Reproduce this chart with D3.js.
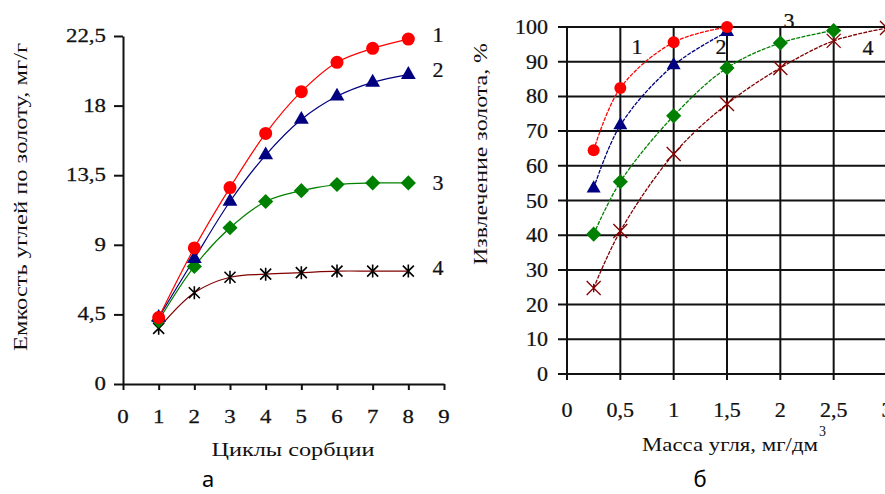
<!DOCTYPE html>
<html><head><meta charset="utf-8">
<script src="https://cdn.jsdelivr.net/npm/d3@7"></script>
<style>html,body{margin:0;padding:0;background:#fff;overflow:hidden}</style>
</head><body>
<svg id="c" width="885" height="494"></svg>
<script>
// ---- Left chart (а) data ----
const cyclesX = [1, 2, 3, 4, 5, 6, 7, 8];
const capS1 = [4.3, 8.8, 12.7, 16.2, 18.9, 20.8, 21.7, 22.3];
const capS2 = [4.3, 8.1, 11.8, 14.8, 17.1, 18.6, 19.5, 20.0];
const capS3 = [4.1, 7.6, 10.1, 11.8, 12.5, 12.9, 13.0, 13.0];
const capS4 = [3.6, 5.9, 6.9, 7.1, 7.2, 7.3, 7.3, 7.3];
const leftYTicks = [0, 4.5, 9, 13.5, 18, 22.5];
const leftXTicks = [0, 1, 2, 3, 4, 5, 6, 7, 8, 9];

// ---- Right chart (б) data ----
const massX1 = [0.25, 0.5, 1, 1.5];
const recS1 = [64.5, 82.4, 95.6, 100];
const recS2 = [53.5, 71.7, 89.0, 98.6];
const massX3 = [0.25, 0.5, 1, 1.5, 2, 2.5];
const recS3 = [40.3, 55.4, 74.4, 88.2, 95.4, 99.0];
const massX4 = [0.25, 0.5, 1, 1.5, 2, 2.5, 3];
const recS4 = [24.8, 41.2, 63.4, 77.8, 88.2, 96.0, 99.7];
const rightYTicks = [0, 10, 20, 30, 40, 50, 60, 70, 80, 90, 100];
const rightXTicks = [0, 0.5, 1, 1.5, 2, 2.5, 3];

const svg = d3.select("#c");
const serif = "'Liberation Serif','DejaVu Serif',serif";
const fmt = d => String(d).replace(".", ",");

function txt(g, x, y, s, size, sx, anchor, fill) {
  return g.append("text")
    .attr("transform", `translate(${x},${y}) scale(${sx},1)`)
    .attr("text-anchor", anchor || "middle")
    .attr("font-family", serif).attr("font-size", size)
    .attr("fill", fill || "#111").attr("stroke", fill || "#111").attr("stroke-width", 0.25)
    .text(s);
}

function marker(g, type, x, y, color, sz) {
  if (type === "circle") {
    g.append("circle").attr("cx", x).attr("cy", y).attr("r", sz).attr("fill", color);
  } else if (type === "tri") {
    g.append("path").attr("d", d3.symbol(d3.symbolTriangle, sz)())
      .attr("transform", `translate(${x},${y})`).attr("fill", color);
  } else if (type === "diamond") {
    g.append("path").attr("d", d3.symbol(d3.symbolSquare, sz)())
      .attr("transform", `translate(${x},${y}) rotate(45)`).attr("fill", color);
  } else if (type === "star") {
    const s = sz;
    g.append("path").attr("d", `M${-s},${-s}L${s},${s}M${-s},${s}L${s},${-s}M0,${-s - 1}L0,${s + 1}`)
      .attr("transform", `translate(${x},${y})`).attr("stroke", color).attr("stroke-width", 1.6).attr("fill", "none");
  } else if (type === "xm") {
    const s = sz;
    g.append("path").attr("d", `M${-s},${-s}L${s},${s}M${-s},${s}L${s},${-s}M0,${-s * 0.6}L0,${s * 0.6}`)
      .attr("transform", `translate(${x},${y})`).attr("stroke", color).attr("stroke-width", 1.3).attr("fill", "none");
  }
}

// ================= LEFT CHART =================
const xL = d3.scaleLinear().domain([0, 9]).range([123, 444]);
const yL = d3.scaleLinear().domain([0, 22.5]).range([384, 36]);
const gL = svg.append("g");

const axY = gL.append("g").attr("transform", `translate(${xL(0)},0)`)
  .call(d3.axisLeft(yL).tickValues(leftYTicks).tickSize(9).tickSizeOuter(0).tickFormat(fmt));
const axX = gL.append("g").attr("transform", `translate(0,${yL(0)})`)
  .call(d3.axisBottom(xL).tickValues(leftXTicks).tickSize(6).tickSizeOuter(0).tickFormat(fmt));
[axY, axX].forEach(a => {
  a.selectAll("path,line").attr("stroke", "#111").attr("stroke-width", 2);
  a.selectAll("text").remove();
});
leftYTicks.forEach(v => txt(gL, xL(0) - 17, yL(v) + 6, fmt(v), 18, 1.27, "end"));
leftXTicks.forEach(v => txt(gL, xL(v), 423, fmt(v), 18, 1.27, "middle"));

const lineL = d3.line().x(d => xL(d[0])).y(d => yL(d[1])).curve(d3.curveCatmullRom.alpha(0.5));
const leftSeries = [
  { ys: capS1, color: "#ff0000", m: "circle", mc: "#ff0000", sz: 6.5 },
  { ys: capS2, color: "#000080", m: "tri", mc: "#000080", sz: 95 },
  { ys: capS3, color: "#008000", m: "diamond", mc: "#008000", sz: 115 },
  { ys: capS4, color: "#800000", m: "star", mc: "#000000", sz: 5.5 }
];
leftSeries.slice().reverse().forEach(s => {
  const pts = cyclesX.map((x, i) => [x, s.ys[i]]);
  gL.append("path").attr("d", lineL(pts)).attr("fill", "none").attr("stroke", s.color).attr("stroke-width", 1.2);
});
leftSeries.slice().reverse().forEach(s => {
  cyclesX.forEach((x, i) => marker(gL, s.m, xL(x), yL(s.ys[i]), s.mc, s.sz));
});

txt(gL, 438, 42, "1", 20, 1.1);
txt(gL, 438, 77, "2", 20, 1.1);
txt(gL, 438, 190, "3", 20, 1.1);
txt(gL, 438, 275, "4", 20, 1.1);

gL.append("text").attr("transform", "translate(27,197) rotate(-90)")
  .attr("text-anchor", "middle").attr("font-family", serif).attr("font-size", 18)
  .attr("fill", "#111").attr("textLength", 308).attr("lengthAdjust", "spacingAndGlyphs")
  .text("Емкость  углей  по  золоту,  мг/г");
gL.append("text").attr("x", 293).attr("y", 456)
  .attr("text-anchor", "middle").attr("font-family", serif).attr("font-size", 19)
  .attr("fill", "#111").attr("textLength", 163).attr("lengthAdjust", "spacingAndGlyphs")
  .text("Циклы  сорбции");
gL.append("text").attr("x", 208).attr("y", 487).attr("text-anchor", "middle")
  .attr("font-family", "'Noto Sans','Open Sans',sans-serif").attr("font-size", 22).attr("fill", "#000").text("а");
// cut-off glyph at the very top (as in the reference)
gL.append("text").attr("x", 363).attr("y", -5).attr("text-anchor", "middle")
  .attr("font-family", serif).attr("font-size", 22).attr("fill", "#000").text("р");

// ================= RIGHT CHART =================
const xR = d3.scaleLinear().domain([0, 3]).range([567, 887]);
const yR = d3.scaleLinear().domain([0, 100]).range([374, 27]);
const gR = svg.append("g");

gR.selectAll("line.h").data(rightYTicks).join("line")
  .attr("x1", xR(0) - 9).attr("x2", xR(3)).attr("y1", d => yR(d)).attr("y2", d => yR(d))
  .attr("stroke", "#111").attr("stroke-width", 2);
gR.selectAll("line.v").data(rightXTicks).join("line")
  .attr("y1", yR(100)).attr("y2", yR(0) + 6).attr("x1", d => xR(d)).attr("x2", d => xR(d))
  .attr("stroke", "#111").attr("stroke-width", 2);

rightYTicks.forEach(v => txt(gR, xR(0) - 19, yR(v) + 7, fmt(v), 20, 1.1, "end"));
rightXTicks.forEach(v => txt(gR, xR(v), 417, fmt(v), 20, 1.1, "middle"));

const lineR = d3.line().x(d => xR(d[0])).y(d => yR(d[1])).curve(d3.curveCatmullRom.alpha(0.5));
const rightSeries = [
  { xs: massX4, ys: recS4, color: "#800000", m: "xm", mc: "#800000", sz: 7 },
  { xs: massX3, ys: recS3, color: "#008000", m: "diamond", mc: "#008000", sz: 115 },
  { xs: massX1, ys: recS2, color: "#000080", m: "tri", mc: "#000080", sz: 85 },
  { xs: massX1, ys: recS1, color: "#ff0000", m: "circle", mc: "#ff0000", sz: 6 }
];
rightSeries.forEach(s => {
  const pts = s.xs.map((x, i) => [x, s.ys[i]]);
  gR.append("path").attr("d", lineR(pts)).attr("fill", "none").attr("stroke", s.color)
    .attr("stroke-width", 1.3).attr("stroke-dasharray", "4,1.2");
});
rightSeries.forEach(s => {
  s.xs.forEach((x, i) => marker(gR, s.m, xR(x), yR(s.ys[i]), s.mc, s.sz));
});

txt(gR, 637, 54, "1", 20, 1.1);
txt(gR, 721, 54, "2", 20, 1.1);
txt(gR, 789, 28, "3", 20, 1.1);
txt(gR, 868, 55, "4", 20, 1.1);

gR.append("text").attr("transform", "translate(487,154) rotate(-90)")
  .attr("text-anchor", "middle").attr("font-family", serif).attr("font-size", 19)
  .attr("fill", "#111").attr("textLength", 222).attr("lengthAdjust", "spacingAndGlyphs")
  .text("Извлечение  золота,  %");
gR.append("text").attr("x", 642).attr("y", 451)
  .attr("font-family", serif).attr("font-size", 19)
  .attr("fill", "#111").attr("textLength", 176).attr("lengthAdjust", "spacingAndGlyphs")
  .text("Масса  угля,  мг/дм");
gR.append("text").attr("x", 819).attr("y", 436)
  .attr("font-family", serif).attr("font-size", 14).attr("fill", "#111").text("3");
gR.append("text").attr("x", 700).attr("y", 487).attr("text-anchor", "middle")
  .attr("font-family", "'Noto Sans','Open Sans',sans-serif").attr("font-size", 22).attr("fill", "#000").text("б");
</script>
</body></html>
